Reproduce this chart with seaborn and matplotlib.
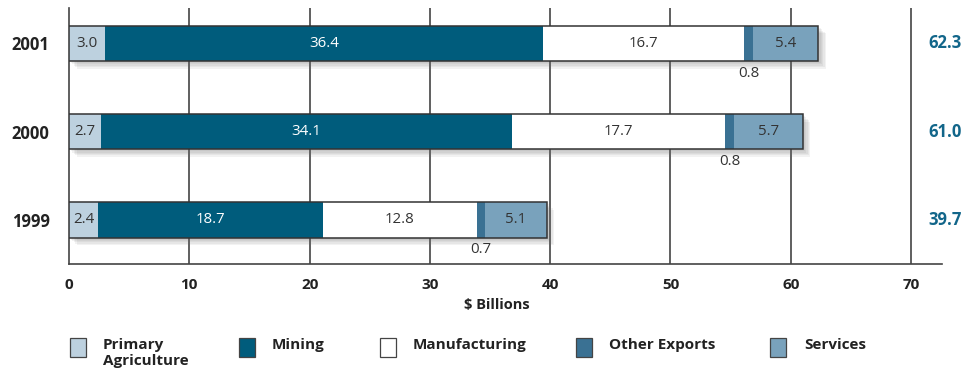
import matplotlib
matplotlib.use("Agg")
import matplotlib.pyplot as plt
import matplotlib.patheffects as pe
from matplotlib.patches import Rectangle
from matplotlib.transforms import blended_transform_factory
import numpy as np
import pandas as pd
import seaborn as sns

# Export values by sector, $ billions
years = ["2001", "2000", "1999"]
primary_agriculture = [3.0, 2.7, 2.4]
mining = [36.4, 34.1, 18.7]
manufacturing = [16.7, 17.7, 12.8]
other_exports = [0.8, 0.8, 0.7]
services = [5.4, 5.7, 5.1]
totals = [62.3, 61.0, 39.7]

sectors = ["Primary\nAgriculture", "Mining", "Manufacturing", "Other Exports", "Services"]
colors = ["#bdd1df", "#005c7c", "#ffffff", "#3a7193", "#79a2bc"]
label_colors = ["#333333", "#ffffff", "#333333", "#333333", "#333333"]
x_ticks = [0, 10, 20, 30, 40, 50, 60, 70]

sns.set_style("white")
plt.rcParams["font.family"] = ["Open Sans", "DejaVu Sans"]

series = [primary_agriculture, mining, manufacturing, other_exports, services]
df = pd.DataFrame({"Year": years})
cum = np.cumsum(np.array(series), axis=0)
for i, name in enumerate(sectors):
    df[f"cum{i}"] = cum[i]

fig = plt.figure(figsize=(9.7, 3.75), dpi=100)
ax = fig.add_axes([69 / 970, 1 - 264 / 375, 873 / 970, 256 / 375])

bar_h = 0.4
# soft drop shadow built from several faint offset copies
shadow = [pe.SimplePatchShadow(offset=(d, -d), shadow_rgbFace="#707070", alpha=0.09)
          for d in (1.5, 2.5, 3.5, 4.5, 5.5)]

# stacked bars: draw the longest cumulative layer first, shorter ones on top
for i in reversed(range(len(sectors))):
    sns.barplot(data=df, x=f"cum{i}", y="Year", order=years, orient="h",
                color=colors[i], saturation=1, width=bar_h, errorbar=None,
                linewidth=0, edgecolor="none", ax=ax, zorder=3)
    if i == len(sectors) - 1:
        for p in ax.patches:
            p.set_path_effects(shadow + [pe.Normal()])

# outline around each full bar
sns.barplot(data=df, x=f"cum{len(sectors)-1}", y="Year", order=years, orient="h",
            fill=False, width=bar_h, errorbar=None, linewidth=1.1,
            edgecolor="#333333", ax=ax, zorder=4)

# segment labels
for r in range(len(years)):
    for i in range(len(sectors)):
        v = series[i][r]
        start = cum[i][r] - v
        if i == 3:
            ax.text(start + v / 2, r + 0.34, f"{v:.1f}", ha="center", va="center",
                    fontsize=10.8, color="#333333", zorder=5)
        else:
            ax.text(start + v / 2, r, f"{v:.1f}", ha="center", va="center",
                    fontsize=10.8, color=label_colors[i], zorder=5)

# totals at the right
trans = blended_transform_factory(ax.transAxes, ax.transData)
for r, t in enumerate(totals):
    ax.text(1.004, r, f"{t:.1f}", transform=trans, ha="center", va="center",
            fontsize=12, fontweight="bold", color="#12668a", clip_on=False)

ax.set_xlim(0, 72.57)
ax.set_ylim(2.5, -0.4)
ax.set_xticks(x_ticks)
ax.set_xticklabels([str(x) for x in x_ticks], fontweight="bold", fontsize=11, color="#222222")
ax.set_yticks(range(len(years)))
ax.set_yticklabels(years, fontweight="bold", fontsize=12, color="#222222")
ax.tick_params(axis="x", length=0, pad=10)
ax.tick_params(axis="y", length=0, pad=14)
ax.set_ylabel("")
ax.set_xlabel("")
for x in x_ticks[1:]:
    ax.axvline(x, color="#444444", lw=1.2, zorder=1)
for s in ["top", "right"]:
    ax.spines[s].set_visible(False)
for s in ["left", "bottom"]:
    ax.spines[s].set_color("#444444")
    ax.spines[s].set_linewidth(1.2)

fig.text(497 / 970, 1 - 305 / 375, "$ Billions", ha="center", va="center",
         fontsize=10.5, fontweight="bold", color="#222222")

# legend
box_x = [70, 239, 380, 576, 770]
text_x = [103, 272, 413, 609, 804]
for i, name in enumerate(sectors):
    fig.add_artist(Rectangle((box_x[i] / 970, 1 - 357 / 375), 16 / 970, 19 / 375,
                             transform=fig.transFigure, facecolor=colors[i],
                             edgecolor="#444444", lw=0.9))
    fig.text(text_x[i] / 970, 1 - 338 / 375, name, ha="left", va="top",
             fontsize=11, fontweight="bold", color="#222222", linespacing=1.2)

fig.savefig("out.png", dpi=100)
